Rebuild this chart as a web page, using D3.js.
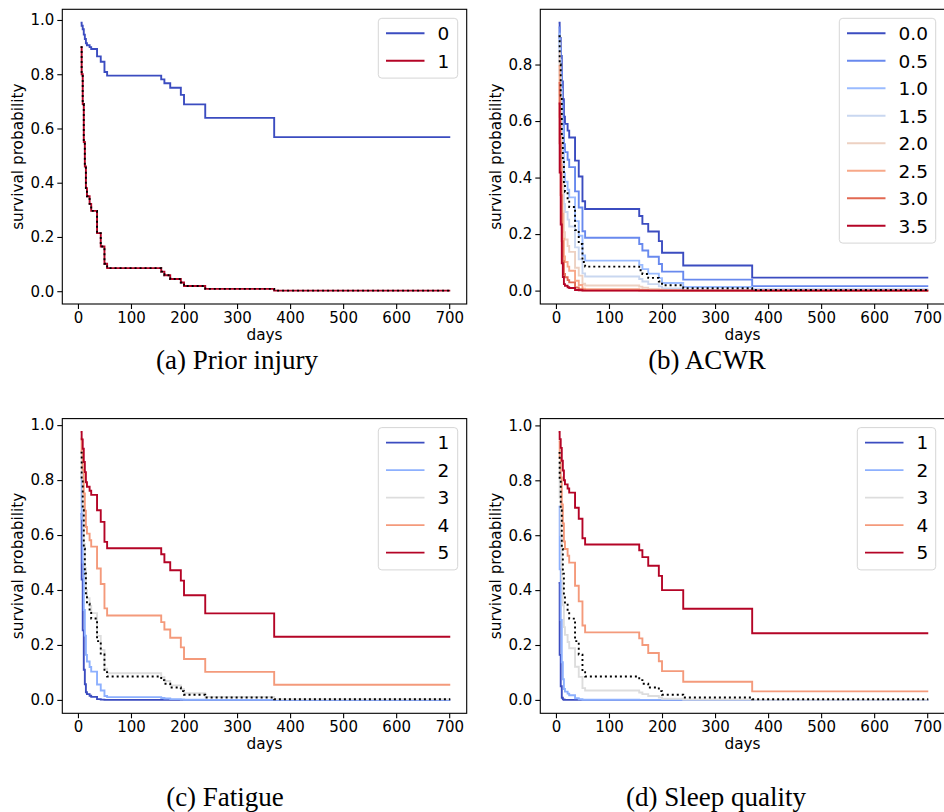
<!DOCTYPE html>
<html>
<head>
<meta charset="utf-8">
<script src="https://cdn.jsdelivr.net/npm/d3@7"></script>
<style>
  body { margin: 0; background: #fff; }
  svg { display: block; }
</style>
</head>
<body>
<svg id="fig" width="944" height="812"></svg>
<script>
// Shared event times (days) of the Cox model; every curve steps at these times.
const days = [5, 7, 9, 11, 13, 15, 17, 22, 25, 36, 43, 50, 55, 157, 163, 174, 194, 200, 240, 370, 702];

// Baseline survival (dotted black curve in every panel).
const baseline = [0.90, 0.80, 0.69, 0.55, 0.46, 0.38, 0.35, 0.322, 0.296, 0.214, 0.165, 0.101, 0.085, 0.072, 0.059, 0.045, 0.032, 0.019, 0.0085, 0.0022, 0.0022];

// (a) Prior injury
const injuryLevels = ["0", "1"];
const injury0 = [0.990, 0.979, 0.966, 0.946, 0.930, 0.914, 0.907, 0.900, 0.893, 0.866, 0.846, 0.808, 0.795, 0.781, 0.767, 0.750, 0.724, 0.689, 0.639, 0.568, 0.568];
const injury1 = [0.90, 0.80, 0.69, 0.55, 0.46, 0.38, 0.35, 0.322, 0.296, 0.214, 0.165, 0.101, 0.085, 0.072, 0.059, 0.045, 0.032, 0.019, 0.0085, 0.0022, 0.0022];

// (b) ACWR
const acwrLevels = ["0.0", "0.5", "1.0", "1.5", "2.0", "2.5", "3.0", "3.5"];
const acwr00 = [0.948, 0.894, 0.830, 0.740, 0.677, 0.615, 0.590, 0.566, 0.542, 0.460, 0.404, 0.316, 0.289, 0.264, 0.236, 0.209, 0.175, 0.134, 0.089, 0.046, 0.046];
const acwr05 = [0.931, 0.859, 0.777, 0.666, 0.590, 0.518, 0.490, 0.463, 0.437, 0.351, 0.294, 0.210, 0.187, 0.165, 0.142, 0.120, 0.094, 0.067, 0.039, 0.016, 0.016];
const acwr10 = [0.909, 0.816, 0.714, 0.580, 0.493, 0.415, 0.385, 0.357, 0.330, 0.246, 0.194, 0.124, 0.106, 0.091, 0.076, 0.060, 0.044, 0.027, 0.013, 0.004, 0.004];
const acwr15 = [0.879, 0.762, 0.636, 0.482, 0.388, 0.307, 0.278, 0.251, 0.227, 0.153, 0.111, 0.061, 0.050, 0.041, 0.032, 0.023, 0.015, 0.008, 0.003, 0.001, 0.001];
const acwr20 = [0.842, 0.695, 0.546, 0.377, 0.282, 0.207, 0.181, 0.158, 0.137, 0.081, 0.053, 0.024, 0.018, 0.014, 0.010, 0.006, 0.004, 0.002, 0.0004, 0.0001, 0.0001];
const acwr25 = [0.795, 0.615, 0.445, 0.272, 0.184, 0.121, 0.101, 0.085, 0.070, 0.035, 0.020, 0.007, 0.005, 0.003, 0.002, 0.001, 0.0006, 0.0002, 0.0001, 0, 0];
const acwr30 = [0.735, 0.521, 0.338, 0.175, 0.104, 0.059, 0.047, 0.037, 0.029, 0.011, 0.005, 0.001, 0.0007, 0.0005, 0.0003, 0.0001, 0, 0, 0, 0, 0];
const acwr35 = [0.662, 0.418, 0.234, 0.097, 0.048, 0.023, 0.017, 0.012, 0.009, 0.002, 0.001, 0.0001, 0, 0, 0, 0, 0, 0, 0, 0, 0];

// (c) Fatigue
const fatigueLevels = ["1", "2", "3", "4", "5"];
const fatigue1 = [0.677, 0.438, 0.253, 0.110, 0.057, 0.028, 0.021, 0.015, 0.011, 0.003, 0.001, 0.0002, 0.0001, 0, 0, 0, 0, 0, 0, 0, 0];
const fatigue2 = [0.821, 0.659, 0.500, 0.327, 0.234, 0.164, 0.140, 0.120, 0.103, 0.056, 0.034, 0.014, 0.010, 0.007, 0.005, 0.003, 0.0016, 0.0006, 0.0001, 0, 0];
const fatigue3 = [0.905, 0.810, 0.704, 0.568, 0.480, 0.400, 0.370, 0.342, 0.316, 0.233, 0.182, 0.114, 0.097, 0.083, 0.069, 0.053, 0.039, 0.024, 0.011, 0.003, 0.003];
const fatigue4 = [0.951, 0.899, 0.837, 0.751, 0.689, 0.629, 0.605, 0.581, 0.558, 0.478, 0.422, 0.333, 0.307, 0.283, 0.256, 0.226, 0.191, 0.149, 0.102, 0.055, 0.055];
const fatigue5 = [0.975, 0.948, 0.914, 0.866, 0.829, 0.792, 0.776, 0.761, 0.746, 0.690, 0.648, 0.575, 0.552, 0.530, 0.501, 0.472, 0.434, 0.381, 0.315, 0.230, 0.230];

// (d) Sleep quality
const sleepLevels = ["1", "2", "3", "4", "5"];
const sleep1 = [0.426, 0.164, 0.050, 0.008, 0.002, 0.0004, 0.0002, 0.0001, 0, 0, 0, 0, 0, 0, 0, 0, 0, 0, 0, 0, 0];
const sleep2 = [0.704, 0.476, 0.291, 0.137, 0.075, 0.040, 0.030, 0.023, 0.017, 0.006, 0.0025, 0.0005, 0.0003, 0.0002, 0.0001, 0, 0, 0, 0, 0, 0];
const sleep3 = [0.865, 0.736, 0.601, 0.440, 0.345, 0.265, 0.237, 0.211, 0.188, 0.121, 0.084, 0.043, 0.034, 0.027, 0.021, 0.014, 0.009, 0.004, 0.0014, 0.0002, 0.0002];
const sleep4 = [0.942, 0.881, 0.810, 0.712, 0.643, 0.577, 0.550, 0.525, 0.500, 0.416, 0.359, 0.271, 0.246, 0.224, 0.200, 0.171, 0.141, 0.105, 0.066, 0.031, 0.031];
const sleep5 = [0.976, 0.950, 0.918, 0.871, 0.836, 0.800, 0.785, 0.770, 0.755, 0.700, 0.660, 0.589, 0.566, 0.545, 0.520, 0.489, 0.452, 0.400, 0.332, 0.243, 0.243];

// Axis ticks
const xTickValues = [0, 100, 200, 300, 400, 500, 600, 700];
const yTicksFull = [0, 0.2, 0.4, 0.6, 0.8, 1.0];
const yTicksShort = [0, 0.2, 0.4, 0.6, 0.8];

// coolwarm samples
const coolwarm2 = ["#3b4cc0", "#b40426"];
const coolwarm5 = ["#3b4cc0", "#8db0fe", "#dddddd", "#f49a7b", "#b40426"];
const coolwarm8 = ["#3b4cc0", "#6889ee", "#9abbff", "#c9d7f0", "#edd1c2", "#f7a889", "#e26952", "#b40426"];

// ---- layout ----
const AX_W = 404.4, AX_H = 294.7;
const X_DOMAIN = [-29.5, 733];
const sansFont = "'DejaVu Sans', sans-serif";
const serifFont = "'Liberation Serif', 'Times New Roman', serif";

const panels = [
  { left: 62.3,  top: 9.3,   levels: injuryLevels,  series: [injury0, injury1], colors: coolwarm2,
    yTicks: yTicksFull, caption: "(a) Prior injury", capX: 237, capY: 369, legendW: 79.4 },
  { left: 540.3, top: 9.3,   levels: acwrLevels,    series: [acwr00, acwr05, acwr10, acwr15, acwr20, acwr25, acwr30, acwr35], colors: coolwarm8,
    yTicks: yTicksShort, caption: "(b) ACWR", capX: 707, capY: 369, legendW: 96.4 },
  { left: 62.3,  top: 418.6, levels: fatigueLevels, series: [fatigue1, fatigue2, fatigue3, fatigue4, fatigue5], colors: coolwarm5,
    yTicks: yTicksFull, caption: "(c) Fatigue", capX: 225, capY: 806, legendW: 79.4 },
  { left: 540.3, top: 418.6, levels: sleepLevels,   series: [sleep1, sleep2, sleep3, sleep4, sleep5], colors: coolwarm5,
    yTicks: yTicksFull, caption: "(d) Sleep quality", capX: 716, capY: 806, legendW: 78.4 }
];

const svg = d3.select("#fig");
svg.append("rect").attr("width", 944).attr("height", 812).attr("fill", "#fff");

panels.forEach((p, pi) => {
  const g = svg.append("g").attr("transform", `translate(${p.left},${p.top})`);

  const allVals = p.series.flat().concat(baseline);
  const yMax = d3.max(allVals), yMin = d3.min(allVals);
  const pad = 0.05 * (yMax - yMin);

  const x = d3.scaleLinear().domain(X_DOMAIN).range([0, AX_W]);
  const y = d3.scaleLinear().domain([yMin - pad, yMax + pad]).range([AX_H, 0]);

  const clipId = "clip" + pi;
  g.append("clipPath").attr("id", clipId)
    .append("rect").attr("width", AX_W).attr("height", AX_H);

  const line = d3.line()
    .x((d, i) => x(days[i]))
    .y(d => y(d))
    .curve(d3.curveStepAfter);

  const plot = g.append("g").attr("clip-path", `url(#${clipId})`);
  p.series.forEach((s, i) => {
    plot.append("path")
      .attr("d", line(s))
      .attr("fill", "none")
      .attr("stroke", p.colors[i])
      .attr("stroke-width", 1.9)
      .attr("stroke-linejoin", "miter");
  });
  plot.append("path")
    .attr("d", line(baseline))
    .attr("fill", "none")
    .attr("stroke", "#000")
    .attr("stroke-width", 1.9)
    .attr("stroke-dasharray", "2,3");

  // axes
  const xAxis = d3.axisBottom(x).tickValues(xTickValues).tickFormat(d3.format("d")).tickSize(5).tickPadding(3);
  const yAxis = d3.axisLeft(y).tickValues(p.yTicks).tickFormat(d3.format(".1f")).tickSize(5).tickPadding(3);

  const gx = g.append("g").attr("transform", `translate(0,${AX_H})`).call(xAxis);
  const gy = g.append("g").call(yAxis);
  [gx, gy].forEach(a => {
    a.select(".domain").remove();
    a.selectAll(".tick line").attr("stroke", "#000").attr("stroke-width", 1.1);
    a.selectAll(".tick text").attr("fill", "#000")
      .style("font-family", sansFont).style("font-size", "15px");
  });

  // frame
  g.append("rect").attr("width", AX_W).attr("height", AX_H)
    .attr("fill", "none").attr("stroke", "#000").attr("stroke-width", 1.1);

  // axis labels
  g.append("text")
    .attr("x", AX_W / 2).attr("y", AX_H + 36)
    .attr("text-anchor", "middle")
    .style("font-family", sansFont).style("font-size", "15.3px").attr("fill", "#000")
    .text("days");
  g.append("text")
    .attr("transform", `translate(${-39.3},${AX_H / 2}) rotate(-90)`)
    .attr("text-anchor", "middle")
    .style("font-family", sansFont).style("font-size", "15.3px").attr("fill", "#000")
    .text("survival probability");

  // legend
  const n = p.levels.length;
  const lw = p.legendW, lh = 32.3 + (n - 1) * 27.5;
  const lx = AX_W - 9 - lw, ly = 9;
  const lg = g.append("g").attr("transform", `translate(${lx},${ly})`);
  lg.append("rect").attr("width", lw).attr("height", lh).attr("rx", 3.5)
    .attr("fill", "#fff").attr("fill-opacity", 0.8)
    .attr("stroke", "#d6d6d6").attr("stroke-width", 1);
  p.levels.forEach((lab, i) => {
    const cy = 15 + i * 27.5;
    lg.append("line")
      .attr("x1", 7.7).attr("x2", 46.2).attr("y1", cy).attr("y2", cy)
      .attr("stroke", p.colors[i]).attr("stroke-width", 1.9);
    lg.append("text")
      .attr("x", 59.2).attr("y", cy + 6.8)
      .style("font-family", sansFont).style("font-size", "18.5px").attr("fill", "#000")
      .text(lab);
  });

  // caption
  svg.append("text")
    .attr("x", p.capX).attr("y", p.capY)
    .attr("text-anchor", "middle")
    .style("font-family", serifFont).style("font-size", "27px").attr("fill", "#000")
    .text(p.caption);
});
</script>
</body>
</html>
